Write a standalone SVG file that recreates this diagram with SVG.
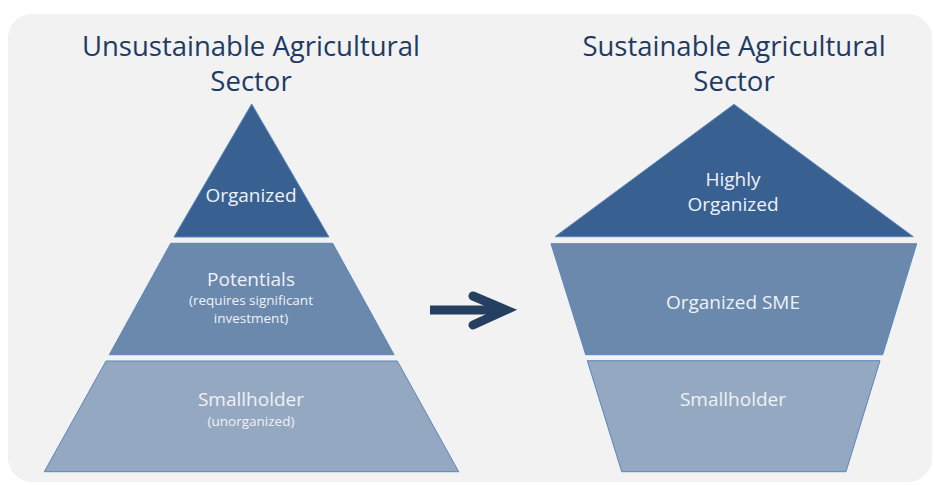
<svg xmlns="http://www.w3.org/2000/svg" width="934" height="485" viewBox="0 0 934 485">
<style>
.title{font-family:"Open Sans","Liberation Sans",sans-serif;font-size:27.5px;fill:#1f3b63;text-anchor:middle}
.lbl{font-family:"Open Sans","Liberation Sans",sans-serif;font-size:19px;fill:#eef2f7;text-anchor:middle}
.sub{font-family:"Open Sans","Liberation Sans",sans-serif;font-size:13.5px;fill:#eef2f7;text-anchor:middle}
.t1{fill:#386192;stroke:#5b86bb;stroke-width:1}
.t2{fill:#6b88ad;stroke:#5b86bb;stroke-width:1}
.t3{fill:#95a8c1;stroke:#5b86bb;stroke-width:1}
</style>
<rect x="0" y="0" width="934" height="485" fill="#ffffff"/>
<rect x="8" y="14" width="924" height="468" rx="24" fill="#f2f2f2"/>
<g id="title-left">
<text class="title" x="251" y="56">Unsustainable Agricultural</text>
<text class="title" x="251" y="91">Sector</text>
</g>
<g id="title-right">
<text class="title" x="734" y="56">Sustainable Agricultural</text>
<text class="title" x="734" y="91">Sector</text>
</g>
<g id="left-organized">
<polygon class="t1" points="251.7,104 329,237 174,237"/>
<text class="lbl" x="251" y="202">Organized</text>
</g>
<g id="left-potentials">
<polygon class="t2" points="170.7,243.3 332.7,243.3 394,354.7 109.3,354.7"/>
<text class="lbl" x="251" y="286">Potentials</text>
<text class="sub" x="251" y="305">(requires significant</text>
<text class="sub" x="251" y="323">investment)</text>
</g>
<g id="left-smallholder">
<polygon class="t3" points="106,361 397.3,361 458.7,471.7 44.3,471.7"/>
<text class="lbl" x="251" y="405.5">Smallholder</text>
<text class="sub" x="251" y="426">(unorganized)</text>
</g>
<g id="right-highly">
<polygon class="t1" points="734,104.3 913.3,236.7 555,236.7"/>
<text class="lbl" x="733" y="185.5">Highly</text>
<text class="lbl" x="733" y="210.5">Organized</text>
</g>
<g id="right-sme">
<polygon class="t2" points="551,243.7 916.7,243.7 882.7,354.7 585.7,354.7"/>
<text class="lbl" x="733" y="308.5">Organized SME</text>
</g>
<g id="right-smallholder">
<polygon class="t3" points="587.3,360.7 880,360.7 846,471.7 621.7,471.7"/>
<text class="lbl" x="733" y="406">Smallholder</text>
</g>
<g id="connectors">
<line x1="430" y1="310" x2="505" y2="310" stroke="#243f60" stroke-width="9"/>
<polyline points="473,296 506,310 473,325" fill="none" stroke="#243f60" stroke-width="9" stroke-linecap="round" stroke-linejoin="miter"/>
</g>
</svg>
